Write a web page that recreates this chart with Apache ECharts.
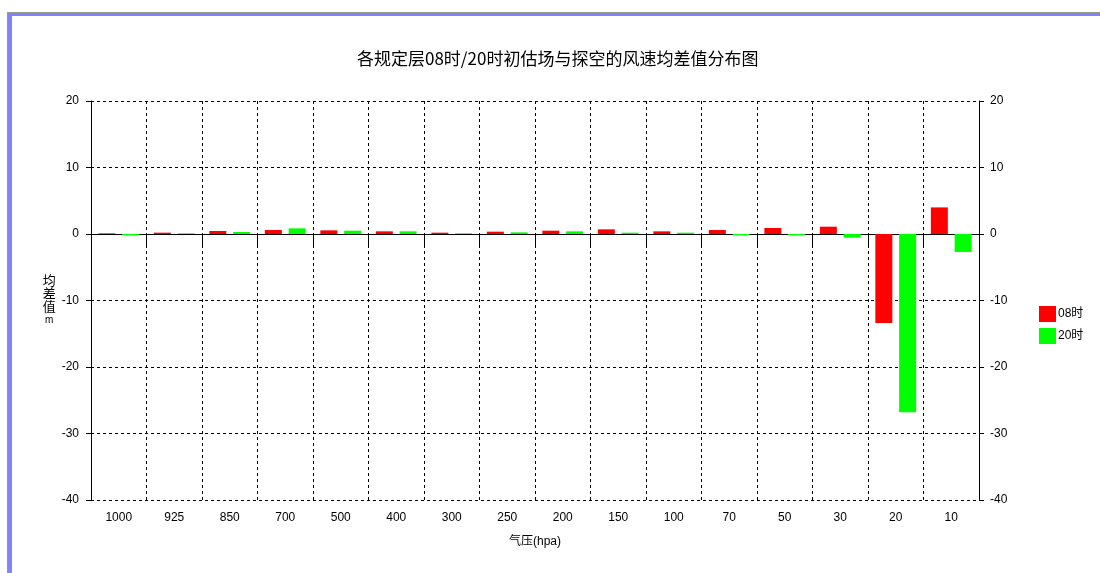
<!DOCTYPE html>
<html>
<head>
<meta charset="utf-8">
<script src="https://cdn.jsdelivr.net/npm/echarts@6/dist/echarts.min.js"></script>
<style>
html,body{margin:0;padding:0;background:#fff;}
#frame{position:absolute;left:7px;top:12px;width:1100px;height:600px;border-left:1px solid #9a9a88;border-top:1px solid #9a9a88;}
#frame2{position:absolute;left:8px;top:13px;width:1100px;height:600px;border-left:4px solid #8282ff;border-top:3px solid #8282ff;}
#chart{position:absolute;left:0;top:0;width:1100px;height:573px;}
</style>
</head>
<body>
<div id="frame"></div>
<div id="frame2"></div>
<div id="chart"></div>
<script>
const categories = ['1000','925','850','700','500','400','300','250','200','150','100','70','50','30','20','10'];
const series08 = [0.1, 0.2, 0.45, 0.6, 0.55, 0.4, 0.2, 0.35, 0.5, 0.7, 0.4, 0.6, 0.9, 1.1, -13.4, 4.0];
const series20 = [-0.2, 0.1, 0.3, 0.85, 0.5, 0.4, 0.1, 0.25, 0.4, 0.2, 0.2, -0.2, -0.2, -0.55, -26.8, -2.7];
const seriesNames = ['08时', '20时'];
const yMin = -40, yMax = 20, yStep = 10;

const chart = echarts.init(document.getElementById('chart'));
const font = 'Liberation Sans, "Noto Sans CJK SC", sans-serif';
const cjk = '"Noto Sans CJK SC", sans-serif';
const dash = [3, 3];
chart.setOption({
  backgroundColor: 'transparent',
  animation: false,
  title: {
    text: '各规定层08时/20时初估场与探空的风速均差值分布图',
    left: 352, top: 45,
    textStyle: {fontSize: 17, fontWeight: 'normal', color: '#000', fontFamily: cjk}
  },
  legend: {
    orient: 'vertical', left: 1034, top: 301, itemGap: 6,
    itemWidth: 17, itemHeight: 16, icon: 'rect',
    textStyle: {fontSize: 12, color: '#000', fontFamily: font, padding: [0,0,0,-3]},
    data: seriesNames
  },
  grid: {left: 91, right: 121, top: 101, bottom: 73},
  xAxis: {
    type: 'category', data: categories, boundaryGap: true,
    name: '气压(hpa)', nameLocation: 'middle', nameGap: 36,
    nameTextStyle: {fontSize: 12, color: '#000', fontFamily: font},
    axisLine: {lineStyle: {color: '#000', width: 1}},
    axisTick: {show: true, length: 14, lineStyle: {color: '#000'}},
    axisLabel: {color: '#000', fontSize: 12, fontFamily: font, margin: 12},
    splitLine: {show: true, lineStyle: {color: '#000', type: dash}}
  },
  yAxis: [{
    type: 'value', min: yMin, max: yMax, interval: yStep, position: 'left',
    name: '{a|均}\n{a|差}\n{a|值}\n{m|m}', nameLocation: 'middle', nameGap: 38, nameRotate: 0,
    nameTextStyle: {
      color: '#000', align: 'center',
      rich: {
        a: {fontSize: 13, lineHeight: 13, fontFamily: cjk, color: '#000'},
        m: {fontSize: 10, lineHeight: 14, fontFamily: font, color: '#000'}
      }
    },
    axisLine: {show: true, lineStyle: {color: '#000'}},
    axisTick: {show: true, length: 5, lineStyle: {color: '#000'}},
    axisLabel: {color: '#000', fontSize: 12, fontFamily: font, margin: 12},
    splitLine: {show: true, lineStyle: {color: '#000', type: dash}}
  }, {
    type: 'value', min: yMin, max: yMax, interval: yStep, position: 'right',
    axisLine: {show: true, lineStyle: {color: '#000'}},
    axisTick: {show: true, length: 5, lineStyle: {color: '#000'}},
    axisLabel: {color: '#000', fontSize: 12, fontFamily: font, margin: 11},
    splitLine: {show: false}
  }],
  series: [
    {name: seriesNames[0], type: 'bar', data: series08, barWidth: 17, barGap: '40%', itemStyle: {color: '#ff0000'}},
    {name: seriesNames[1], type: 'bar', data: series20, barWidth: 17, barGap: '40%', itemStyle: {color: '#00ff00'}}
  ]
});
</script>
</body>
</html>
